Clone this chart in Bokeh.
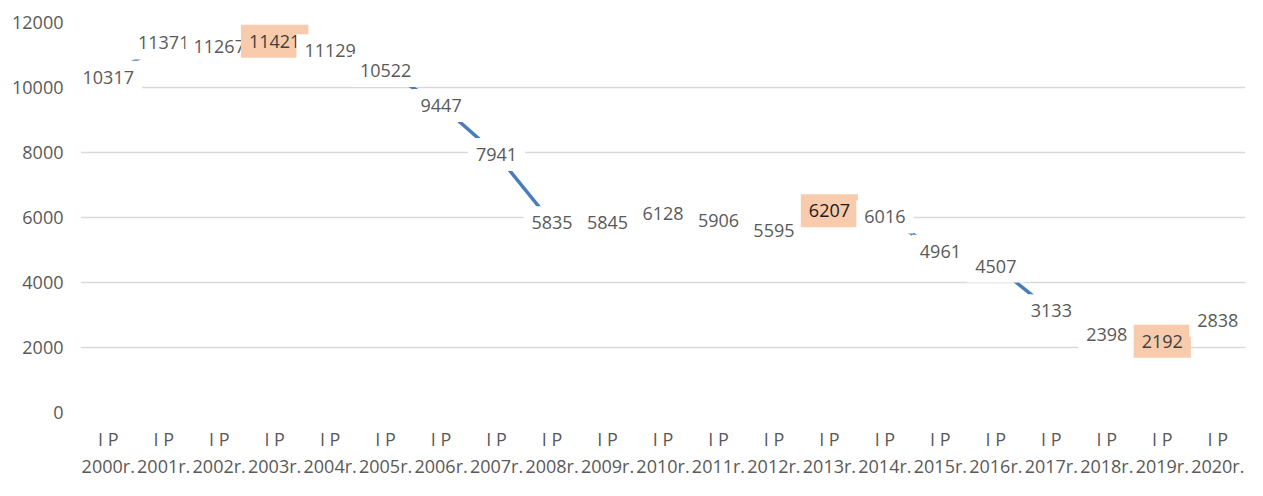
from bokeh.plotting import figure
from bokeh.models import Range1d, FixedTicker, Label, LinearAxis
from bokeh.embed import file_html
from bokeh.resources import INLINE

years = ["2000r.", "2001r.", "2002r.", "2003r.", "2004r.", "2005r.", "2006r.",
         "2007r.", "2008r.", "2009r.", "2010r.", "2011r.", "2012r.", "2013r.",
         "2014r.", "2015r.", "2016r.", "2017r.", "2018r.", "2019r.", "2020r."]
period = "I P"
values = [10317, 11371, 11267, 11421, 11129, 10522, 9447, 7941, 5835, 5845,
          6128, 5906, 5595, 6207, 6016, 4961, 4507, 3133, 2398, 2192, 2838]
highlighted = ["2003r.", "2013r.", "2019r."]
y_ticks = [0, 2000, 4000, 6000, 8000, 10000, 12000]

FONT = "Open Sans"
TXT = "#595959"

xs = list(range(len(years)))

p = figure(width=1247, height=480, output_backend="svg", toolbar_location=None,
           x_range=Range1d(-0.5, len(years) - 0.5), y_range=Range1d(0, 12000),
           min_border_left=80, min_border_right=2, min_border_top=22,
           min_border_bottom=40)
p.outline_line_color = None
p.background_fill_color = "white"

p.line(xs, values, line_color="#4a7ebb", line_width=3.5)

for x, v, yr in zip(xs, values, years):
    hl = yr in highlighted
    p.add_layout(Label(x=x, y=v, text=str(v), text_align="center",
                       text_baseline="middle", text_font=FONT,
                       text_font_size="18px",
                       text_color="#1a1a1a" if yr == "2013r." else ("#404040" if hl else TXT),
                       background_fill_color="#f8cbad" if hl else "white",
                       padding=dict(left=8, right=8, top=10, bottom=10)))

# two-row category labels: period on the first row, year on the second
p.xaxis.ticker = FixedTicker(ticks=xs)
p.xaxis.major_label_overrides = {x: period for x in xs}
p.xaxis.major_label_standoff = 14
year_axis = LinearAxis(ticker=FixedTicker(ticks=xs),
                       major_label_overrides={x: yr for x, yr in zip(xs, years)},
                       major_label_standoff=0)
p.add_layout(year_axis, "below")

p.yaxis.ticker = FixedTicker(ticks=y_ticks)
p.yaxis.major_label_standoff = 17
for ax in (p.xaxis[0], year_axis, p.yaxis[0]):
    ax.axis_line_color = None
    ax.major_tick_line_color = None
    ax.minor_tick_line_color = None
    ax.major_tick_out = 0
    ax.major_tick_in = 0
    ax.minor_tick_out = 0
    ax.minor_tick_in = 0
    ax.axis_label_standoff = 0
    ax.major_label_text_font = FONT
    ax.major_label_text_font_size = "18px"
    ax.major_label_text_color = TXT

p.xgrid.grid_line_color = None
p.ygrid.grid_line_color = "#d9d9d9"
p.ygrid.grid_line_width = 1.3

open("out.html", "w").write(file_html(p, INLINE))
